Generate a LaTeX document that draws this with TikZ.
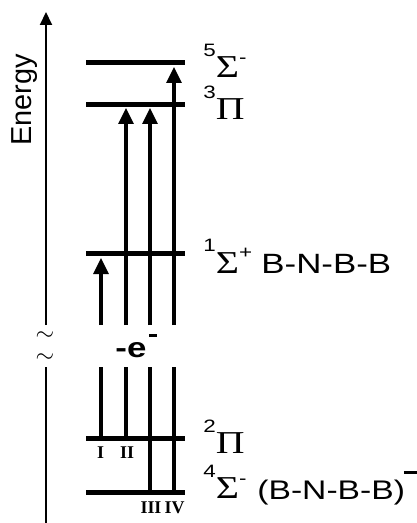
\documentclass[tikz,border=0pt]{standalone}
\usepackage{fontspec}
\setmainfont{Liberation Sans}[FakeStretch=1.25]
\newfontfamily\plainsans{Liberation Sans}
\newfontfamily\greekfont{Liberation Serif}[FakeStretch=1.25]
\newfontfamily\numeralfont{Liberation Serif}
\usetikzlibrary{arrows.meta,positioning}

% superscripts of the state labels
\newcommand\spin[1]{\raisebox{10.5bp}{\fontsize{9}{9}\selectfont #1}}
\newcommand\chg[1]{\raisebox{7bp}{\fontsize{9}{9}\selectfont #1}}
\newcommand\grk[1]{{\greekfont\fontsize{16}{16}\selectfont #1}}
\newcommand\minusbar[2]{\raisebox{#1}{\rule{#2}{1.7bp}}}

\tikzset{
  level/.style={line width=2.5bp},
  shaft/.style={line width=1.6bp},
  up/.style={shaft,-{Triangle[width=7.5bp,length=8bp]}},
  axis/.style={line width=1bp},
  statelabel/.style={anchor=base west,inner sep=0pt,font=\fontsize{14}{16}\selectfont},
  numeral/.style={anchor=base,inner sep=0pt,font=\numeralfont\bfseries\fontsize{9}{9}\selectfont},
  breakmark/.style={inner sep=0pt,font=\fontsize{12}{12}\selectfont}
}

\begin{document}
\begin{tikzpicture}[x=0.5bp,y=-0.5bp]
  \useasboundingbox (0,0) rectangle (417,523);

  % energy axis with a break
  \coordinate (ax-bot) at (46,523);
  \coordinate (ax-lo) at (46,367);
  \coordinate (ax-hi) at (46,325);
  \coordinate (ax-top) at (46,12);
  \draw[axis] (ax-bot) -- (ax-lo);
  \draw[axis,-{Triangle[width=6bp,length=6.5bp]}] (ax-hi) -- (ax-top);
  \node[breakmark] (brk1) at (45,336) {$\sim$};
  \node[breakmark] (brk2) at (45,358) {$\sim$};
  \node[anchor=base,rotate=90,inner sep=0pt,font=\plainsans\fontsize{14.5}{16}\selectfont]
    (energy) at (31,100) {Energy};

  % levels
  \foreach \name/\y in {quint/63, trip/105, sing/253, dpi/438, quart/492}
    \draw[level] (86,\y) coordinate (\name-l) -- (185,\y) coordinate (\name-r);

  % transitions
  \foreach \n/\x/\lo/\hi in {I/101/438/258, II/126/438/108, III/150/492/108, IV/174/492/67} {
    \coordinate (\n-from) at (\x,\lo);
    \coordinate (\n-cut) at (\x,367);
    \coordinate (\n-gap) at (\x,325);
    \coordinate (\n-to) at (\x,\hi);
    \draw[shaft] (\n-from) -- (\n-cut);
    \draw[up] (\n-gap) -- (\n-to);
  }
  \node[anchor=base west,inner sep=0pt,font=\bfseries\fontsize{14}{16}\selectfont]
    (detach) at (115,357) {-e\kern1.5bp\minusbar{10bp}{4bp}};

  \node[numeral] (numI) at (100.5,458) {I};
  \node[numeral] (numII) at (127,458) {II};
  \node[numeral] (numIII) at (151,513) {III};
  \node[numeral] (numIV) at (174.5,513) {IV};

  % state labels
  \node[statelabel] (lab-quint) at (203,78) {\spin{5}\grk{Σ}\chg{-}};
  \node[statelabel] (lab-trip) at (203,120) {\spin{3}\grk{Π}};
  \node[statelabel] (lab-sing) at (203,273) {\spin{1}\grk{Σ}\chg{+}};
  \node[statelabel] (neutral) at (261,273) {B-N-B-B};
  \node[statelabel] (lab-dpi) at (203,453) {\spin{2}\grk{Π}};
  \node[statelabel] (lab-quart) at (203,498) {\spin{4}\grk{Σ}\chg{-}};
  \node[statelabel,font=\fontsize{13.5}{16}\selectfont] (anion) at (257,499)
    {(B-N-B-B)\kern-0.5bp\minusbar{12.5bp}{6.5bp}};
\end{tikzpicture}
\end{document}
